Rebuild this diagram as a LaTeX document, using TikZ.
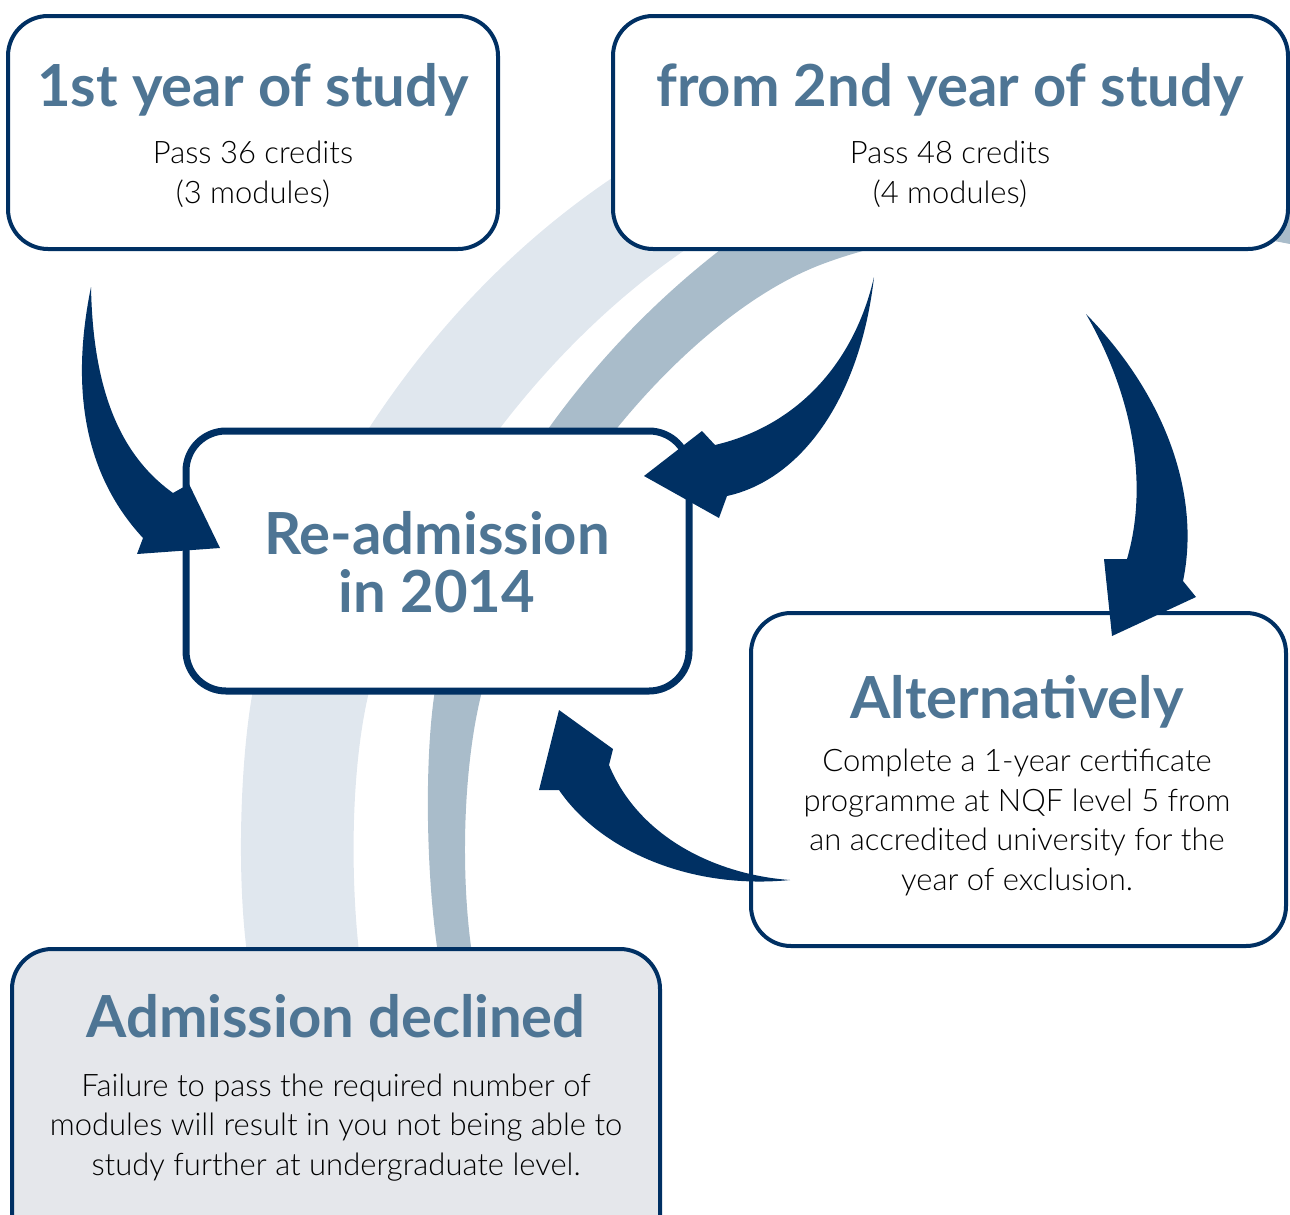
\documentclass[tikz,border=0pt]{standalone}
\usepackage{fontspec}
\setmainfont{Lato Light}
\newfontfamily\titlefont{Lato Bold}
\usetikzlibrary{positioning}
\definecolor{navy}{HTML}{003063}
\definecolor{steel}{HTML}{4E7594}
\definecolor{arclight}{HTML}{E0E7EE}
\definecolor{arcmid}{HTML}{A9BCCA}
\definecolor{greybox}{HTML}{E5E7EB}

\tikzset{
  box/.style={draw=navy, line width=2pt, rounded corners=20pt, fill=white, inner sep=0pt},
  title/.style={text=steel, anchor=base, font=\titlefont\fontsize{29}{33}\selectfont},
  body/.style={align=center, anchor=base, font=\fontsize{15.5}{19.75}\selectfont},
  bigarrow/.style={fill=navy},
}

\begin{document}
\begin{tikzpicture}[x=0.5pt,y=-0.5pt]
\clip (0,0) rectangle (1290,1215);
% background arcs
\fill[arclight] (248,960) .. controls (236,880) and (240,750) .. (255,680)
  .. controls (275,590) and (380,320) .. (640,160) -- (780,160) -- (700,240)
  .. controls (560,330) and (420,500) .. (372,680)
  .. controls (350,760) and (350,880) .. (360,960) -- cycle;
\fill[arcmid] (439,960) .. controls (426,880) and (424,760) .. (435,690)
  .. controls (445,580) and (540,390) .. (720,250)
  .. controls (900,110) and (1200,120) .. (1300,215) -- (1300,246)
  .. controls (1150,215) and (950,215) .. (820,265)
  .. controls (690,315) and (530,500) .. (485,680)
  .. controls (462,760) and (460,880) .. (473,960) -- cycle;

% boxes
\node[box, minimum width=245pt, minimum height=116.5pt] (yr1) at (253,132.5) {};
\node[box, minimum width=337.5pt, minimum height=116.5pt] (yr2) at (950.5,132.5) {};
\node[box, line width=3.5pt, minimum width=251.5pt, minimum height=130pt] (readm) at (437.5,561) {};
\node[box, minimum width=267.5pt, minimum height=166.5pt] (alt) at (1018.5,779.5) {};
\node[box, fill=greybox, minimum width=324pt, minimum height=160pt] (decl) at (336,1109) {};

% titles
\node[title] (yr1t) at (253,106) {1st year of study};
\node[title] (yr2t) at (950,106) {from 2nd year of study};
\node[title] (readmt) at (437,554) {Re-admission};
\node[title] (readmy) at (437,612) {in 2014};
\node[title] (altt) at (1017,718) {Alternatively};
\node[title] (declt) at (336,1037) {Admission declined};

% texts (base = last line)
\node[body] (yr1p) at (253,203) {Pass 36 credits\\(3 modules)};
\node[body] (yr2p) at (950,203) {Pass 48 credits\\(4 modules)};
\node[body] (altp) at (1017,890) {Complete a 1-year certificate\\programme at NQF level 5 from\\an accredited university for the\\year of exclusion.};
\node[body] (declp) at (336,1175) {Failure to pass the required number of\\modules will result in you not being able to\\study further at undergraduate level.};

% arrows
\coordinate (a1tail) at (91,287);
\coordinate (a1tip) at (220,548);
\fill[bigarrow] (a1tail) .. controls (72,380) and (80,470) .. (143,538) -- (137,554) -- (a1tip) -- (189,484) -- (173,493) .. controls (120,455) and (93,390) .. (a1tail) -- cycle;
\coordinate (a2tail) at (874,277);
\coordinate (a2tip) at (644,476);
\fill[bigarrow] (a2tail) .. controls (860,400) and (800,480) .. (727,496) -- (719,518) -- (a2tip) -- (702,431) -- (715,445) .. controls (800,425) and (855,360) .. (a2tail) -- cycle;
\coordinate (a3tail) at (1086,314);
\coordinate (a3tip) at (1112,636);
\fill[bigarrow] (a3tail) .. controls (1170,400) and (1200,500) .. (1183,581) -- (1196,597) -- (a3tip) -- (1104,559) -- (1127,559) .. controls (1150,480) and (1130,390) .. (a3tail) -- cycle;
\coordinate (a4tail) at (790,880);
\coordinate (a4tip) at (559,710);
\fill[bigarrow] (a4tail) .. controls (690,890) and (600,850) .. (559,790) -- (539,790) -- (a4tip) -- (613,749) -- (609,765) .. controls (640,840) and (720,875) .. (a4tail) -- cycle;
\end{tikzpicture}
\end{document}
